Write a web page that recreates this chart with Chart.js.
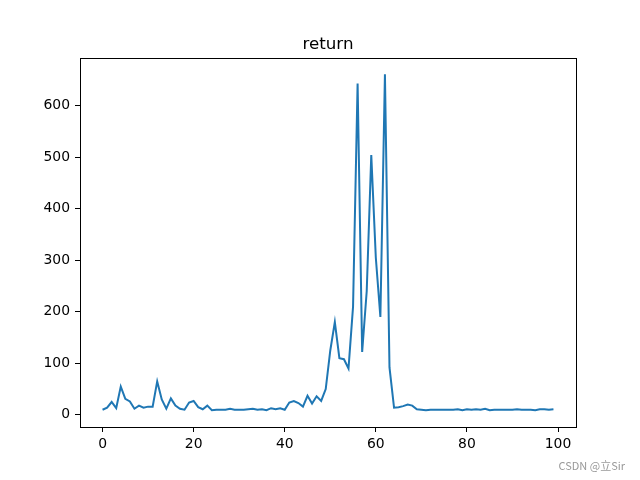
<!DOCTYPE html>
<html>
<head>
<meta charset="utf-8">
<script src="https://cdn.jsdelivr.net/npm/chart.js@4/dist/chart.umd.min.js"></script>
<style>
  html, body { margin: 0; padding: 0; background: #fff; }
  #wrap { position: relative; width: 640px; height: 480px; }
</style>
</head>
<body>
<div id="wrap"><canvas id="chart" width="640" height="480"></canvas></div>
<script>
// values (episode index 0..99)
const returnValues = [
  10, 14, 25, 13, 55, 31, 26, 12, 18, 14,
  16, 16, 65, 30, 12, 32, 18, 12, 10, 24,
  27, 15, 11, 18, 9, 10, 10, 10, 12, 10,
  10, 10, 11, 12, 10, 11, 9, 13, 11, 13,
  10, 24, 27, 23, 16, 37, 22, 36, 27, 50,
  125, 180, 110, 108, 90, 210, 643, 122, 240, 504,
  305, 190, 661, 92, 14, 15, 17, 20, 18, 11,
  10, 9, 10, 10, 10, 10, 10, 10, 11, 9,
  11, 10, 11, 10, 12, 9, 10, 10, 10, 10,
  10, 11, 10, 10, 10, 9, 11, 11, 10, 11
];
const xTicks = [0, 20, 40, 60, 80, 100];
const yTicks = [0, 100, 200, 300, 400, 500, 600];
const titleText = 'return';
const watermark = 'CSDN @立Sir';

const FONT = "'DejaVu Sans', sans-serif";

const points = returnValues.map((v, i) => ({ x: i, y: v }));

// frame + title + watermark drawn on top of the chart
const decorations = {
  id: 'decorations',
  afterDraw(chart) {
    const { ctx, chartArea: a } = chart;
    ctx.save();
    ctx.strokeStyle = '#000';
    ctx.lineWidth = 1;
    ctx.strokeRect(Math.round(a.left) + 0.5, Math.round(a.top) + 0.5,
      Math.round(a.right - a.left), Math.round(a.bottom - a.top));

    ctx.fillStyle = '#000';
    ctx.font = `16.7px ${FONT}`;
    ctx.textAlign = 'center';
    ctx.textBaseline = 'alphabetic';
    ctx.fillText(titleText, (a.left + a.right) / 2, 49);

    ctx.fillStyle = '#999';
    ctx.font = `11px 'Noto Sans CJK SC', ${FONT}`;
    ctx.textAlign = 'right';
    ctx.fillText(watermark, 625, 470);
    ctx.restore();
  }
};

new Chart(document.getElementById('chart'), {
  type: 'scatter',
  data: {
    datasets: [{
      data: points,
      showLine: true,
      borderColor: '#1f77b4',
      borderWidth: 2,
      pointRadius: 0,
      tension: 0,
    }],
  },
  options: {
    responsive: false,
    animation: false,
    events: [],
    layout: { padding: { left: 0, top: 58, right: 64, bottom: 0 } },
    plugins: { legend: { display: false }, tooltip: { enabled: false } },
    scales: {
      x: {
        type: 'linear',
        min: -4.95,
        max: 103.95,
        afterBuildTicks: s => { s.ticks = xTicks.map(v => ({ value: v })); },
        afterFit: s => { s.height = 53; },
        grid: { drawOnChartArea: false, tickLength: 5, color: '#000', tickColor: '#000' },
        border: { display: false },
        ticks: { color: '#000', padding: 4, maxRotation: 0, font: { family: FONT, size: 13.9 } },
      },
      y: {
        min: -23.5,
        max: 692.5,
        afterBuildTicks: s => { s.ticks = yTicks.map(v => ({ value: v })); },
        afterFit: s => { s.width = 80; },
        grid: { drawOnChartArea: false, tickLength: 5, color: '#000', tickColor: '#000' },
        border: { display: false },
        ticks: { color: '#000', padding: 5, font: { family: FONT, size: 13.9 } },
      },
    },
  },
  plugins: [decorations],
});
</script>
</body>
</html>
